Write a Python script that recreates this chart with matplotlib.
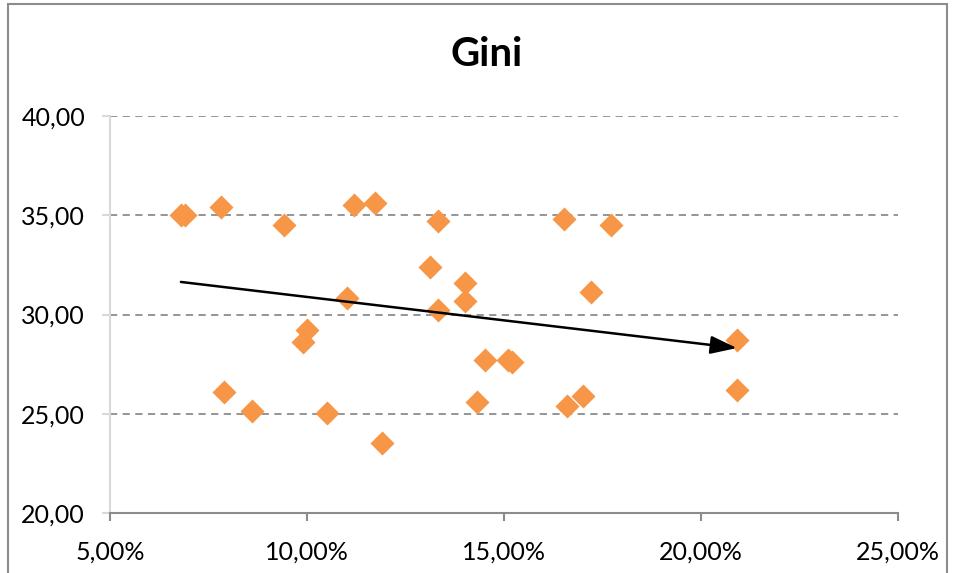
import matplotlib.pyplot as plt
from matplotlib.patches import Rectangle

# Data (x in %, y = Gini)
growth = [6.80, 6.90, 7.82, 9.42, 11.19, 11.73, 13.32, 16.52, 17.72,
          13.12, 14.01, 14.01, 11.02, 13.32, 17.21, 10.00, 9.90, 20.91,
          14.52, 15.10, 15.20, 20.91, 7.89, 17.00, 16.60, 14.31, 8.60,
          10.51, 11.90]
gini = [35.01, 35.00, 35.42, 34.51, 35.52, 35.62, 34.71, 34.81, 34.51,
        32.39, 31.59, 30.68, 30.83, 30.23, 31.13, 29.22, 28.61, 28.72,
        27.71, 27.71, 27.61, 26.20, 26.10, 25.89, 25.39, 25.59, 25.14,
        25.04, 23.53]
arrow_start = (6.80, 31.64)
arrow_end = (20.91, 28.31)
x_ticks = [5, 10, 15, 20, 25]
y_ticks = [20, 25, 30, 35, 40]

plt.rcParams['font.family'] = ['Lato', 'DejaVu Sans']

fig = plt.figure(figsize=(9.55, 5.73), dpi=100)
ax = fig.add_axes([110 / 955, 1 - 513 / 573, 788 / 955, 397 / 573])

ax.scatter(growth, gini, marker='D', s=150, color='#F79646', zorder=3, linewidths=0)

ax.annotate('', xy=arrow_end, xytext=arrow_start,
            arrowprops=dict(arrowstyle='-|>,head_length=1.6,head_width=0.55',
                            color='black', lw=1.8, shrinkA=0, shrinkB=0),
            zorder=4)

ax.set_xlim(5, 25)
ax.set_ylim(20, 40)
ax.set_xticks(x_ticks)
ax.set_yticks(y_ticks)
ax.set_xticklabels([f'{v:.2f}%'.replace('.', ',') for v in x_ticks])
ax.set_yticklabels([f'{v:.2f}'.replace('.', ',') for v in y_ticks])

for v in y_ticks[1:]:
    ax.axhline(v, color='#8C8C8C', lw=1.3, ls=(0, (4, 3)), zorder=1)

for s in ['top', 'right']:
    ax.spines[s].set_visible(False)
ax.spines['left'].set_color('#D9D9D9')
ax.spines['left'].set_linewidth(1.5)
ax.spines['bottom'].set_color('#8C8C8C')
ax.spines['bottom'].set_linewidth(1.5)
ax.tick_params(axis='y', length=6, color='#D9D9D9', width=1.5, labelsize=18, pad=12)
ax.tick_params(axis='x', length=6, color='#8C8C8C', width=1.5, labelsize=18, pad=14)

fig.text(487 / 955, 1 - 55 / 573, 'Gini', ha='center', va='center',
         fontsize=29, fontweight='bold')

# outer chart border
fig.patches.append(Rectangle((8 / 955, -0.1), 939 / 955, 1.1 - 4 / 573,
                             transform=fig.transFigure, fill=False,
                             edgecolor='#8C8C8C', lw=1.5))

fig.savefig('out.png', dpi=100)
